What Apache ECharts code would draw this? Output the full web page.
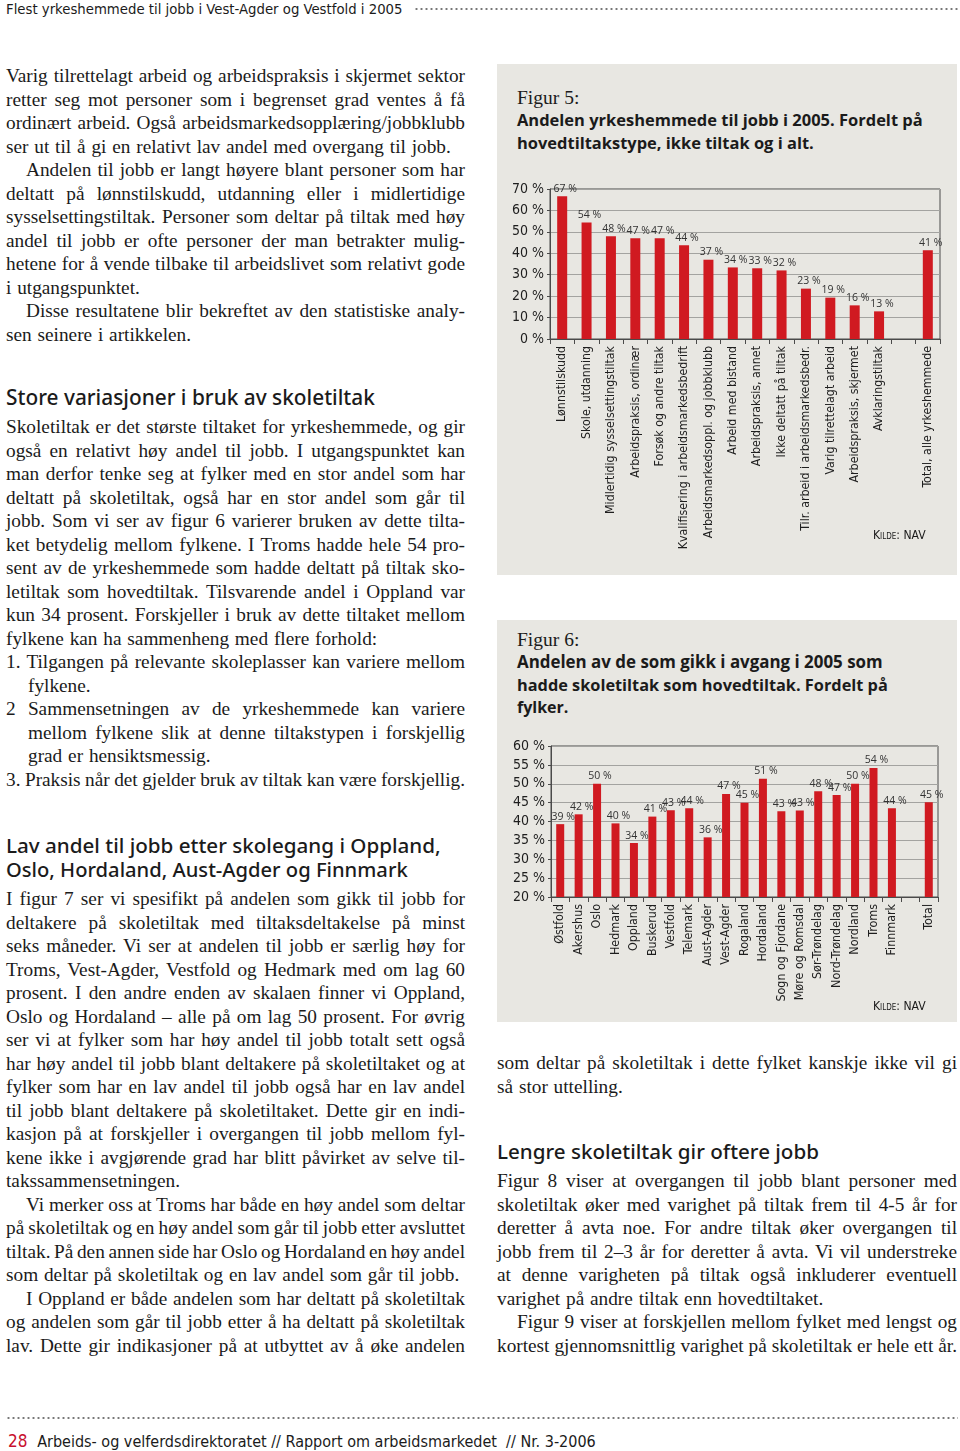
<!DOCTYPE html>
<html><head><meta charset="utf-8">
<script src="https://cdn.jsdelivr.net/npm/echarts@6/dist/echarts.min.js"></script>
<style>
html,body{margin:0;padding:0;background:#fff;}
body{width:960px;height:1451px;position:relative;overflow:hidden;color:#1b1b1b;}
.abs{position:absolute;}
.txt{font-family:"Liberation Serif","Times New Roman",serif;font-size:19.3px;line-height:23.5px;}
.txt div{text-align:justify;text-align-last:justify;white-space:nowrap;}
.txt div.l{text-align-last:left;word-spacing:1px;}
.txt div.i{text-indent:20px;}
.txt div.h{padding-left:22px;}
.col-l{left:6px;width:459px;}
.col-r{left:497px;width:460px;}
.hd{font-family:"Noto Sans","Open Sans",sans-serif;font-weight:500;font-size:21px;line-height:24px;white-space:nowrap;}
.fit{display:inline-block;white-space:nowrap;}
.cond{font-family:"Liberation Sans Narrow","DejaVu Sans Condensed",sans-serif;}
.dots{position:absolute;height:4px;background-image:radial-gradient(circle,#777 0.9px,transparent 1.3px);background-size:5px 4px;background-repeat:repeat-x;}
.panel{position:absolute;left:497px;width:460px;background:#e8e7e2;}
.fign{font-family:"Liberation Serif",serif;font-size:19.5px;line-height:22px;white-space:nowrap;}
.figt{font-family:"Open Sans",sans-serif;font-weight:bold;font-size:16px;line-height:22.5px;white-space:nowrap;}
.kilde{font-family:"Liberation Sans Narrow","DejaVu Sans Condensed",sans-serif;font-size:14px;font-variant:small-caps;}
</style></head>
<body>
<!-- header -->
<div class="abs cond" style="left:6px;top:-1px;font-size:16px;line-height:20px;"><span class="fit" data-w="397">Flest yrkeshemmede til jobb i Vest-Agder og Vestfold i 2005</span></div>
<div class="dots" style="left:414px;width:544px;top:7px;"></div>

<!-- left column -->
<div class="abs txt col-l" style="top:64px;">
<div>Varig tilrettelagt arbeid og arbeidspraksis i skjermet sektor</div>
<div>retter seg mot personer som i begrenset grad ventes å få</div>
<div>ordinært arbeid. Også arbeidsmarkedsopplæring/jobbklubb</div>
<div class="l">ser ut til å gi en relativt lav andel med overgang til jobb.</div>
<div class="i">Andelen til jobb er langt høyere blant personer som har</div>
<div>deltatt på lønnstilskudd, utdanning eller i midlertidige</div>
<div>sysselsettingstiltak. Personer som deltar på tiltak med høy</div>
<div>andel til jobb er ofte personer der man betrakter mulig-</div>
<div>hetene for å vende tilbake til arbeidslivet som relativt gode</div>
<div class="l">i utgangspunktet.</div>
<div class="i">Disse resultatene blir bekreftet av den statistiske analy-</div>
<div class="l">sen seinere i artikkelen.</div>
</div>

<div class="abs hd" style="left:6px;top:385px;"><span class="fit" data-w="369">Store variasjoner i bruk av skoletiltak</span></div>

<div class="abs txt col-l" style="top:415px;">
<div>Skoletiltak er det største tiltaket for yrkeshemmede, og gir</div>
<div>også en relativt høy andel til jobb. I utgangspunktet kan</div>
<div>man derfor tenke seg at fylker med en stor andel som har</div>
<div>deltatt på skoletiltak, også har en stor andel som går til</div>
<div>jobb. Som vi ser av figur 6 varierer bruken av dette tilta-</div>
<div>ket betydelig mellom fylkene. I Troms hadde hele 54 pro-</div>
<div>sent av de yrkeshemmede som hadde deltatt på tiltak sko-</div>
<div>letiltak som hovedtiltak. Tilsvarende andel i Oppland var</div>
<div>kun 34 prosent. Forskjeller i bruk av dette tiltaket mellom</div>
<div class="l">fylkene kan ha sammenheng med flere forhold:</div>
<div>1. Tilgangen på relevante skoleplasser kan variere mellom</div>
<div class="l h">fylkene.</div>
<div>2 Sammensetningen av de yrkeshemmede kan variere</div>
<div class="h">mellom fylkene slik at denne tiltakstypen i forskjellig</div>
<div class="l h">grad er hensiktsmessig.</div>
<div>3. Praksis når det gjelder bruk av tiltak kan være forskjellig.</div>
</div>

<div class="abs hd" style="left:6px;top:833px;">
<div><span class="fit" data-w="435">Lav andel til jobb etter skolegang i Oppland,</span></div>
<div><span class="fit" data-w="402">Oslo, Hordaland, Aust-Agder og Finnmark</span></div>
</div>

<div class="abs txt col-l" style="top:887px;">
<div>I figur 7 ser vi spesifikt på andelen som gikk til jobb for</div>
<div>deltakere på skoletiltak med tiltaksdeltakelse på minst</div>
<div>seks måneder. Vi ser at andelen til jobb er særlig høy for</div>
<div>Troms, Vest-Agder, Vestfold og Hedmark med om lag 60</div>
<div>prosent. I den andre enden av skalaen finner vi Oppland,</div>
<div>Oslo og Hordaland – alle på om lag 50 prosent. For øvrig</div>
<div>ser vi at fylker som har høy andel til jobb totalt sett også</div>
<div>har høy andel til jobb blant deltakere på skoletiltaket og at</div>
<div>fylker som har en lav andel til jobb også har en lav andel</div>
<div>til jobb blant deltakere på skoletiltaket. Dette gir en indi-</div>
<div>kasjon på at forskjeller i overgangen til jobb mellom fyl-</div>
<div>kene ikke i avgjørende grad har blitt påvirket av selve til-</div>
<div class="l">takssammensetningen.</div>
<div class="i">Vi merker oss at Troms har både en høy andel som deltar</div>
<div>på skoletiltak og en høy andel som går til jobb etter avsluttet</div>
<div>tiltak. På den annen side har Oslo og Hordaland en høy andel</div>
<div class="l">som deltar på skoletiltak og en lav andel som går til jobb.</div>
<div class="i">I Oppland er både andelen som har deltatt på skoletiltak</div>
<div>og andelen som går til jobb etter å ha deltatt på skoletiltak</div>
<div>lav. Dette gir indikasjoner på at utbyttet av å øke andelen</div>
</div>

<!-- right column: figure 5 -->
<div class="panel" style="top:64px;height:511px;"></div>
<div class="abs fign" style="left:517px;top:87px;">Figur 5:</div>
<div class="abs figt" style="left:517px;top:109px;">
<div><span class="fit" data-w="406">Andelen yrkeshemmede til jobb i 2005. Fordelt på</span></div>
<div><span class="fit" data-w="297">hovedtiltakstype, ikke tiltak og i alt.</span></div>
</div>
<div id="c1" class="abs" style="left:497px;top:175px;width:460px;height:395px;"></div>
<div class="abs kilde" style="left:873px;top:526px;"><span class="fit" data-w="54">Kilde: NAV</span></div>

<!-- figure 6 -->
<div class="panel" style="top:620px;height:402px;"></div>
<div class="abs fign" style="left:517px;top:629px;">Figur 6:</div>
<div class="abs figt" style="left:517px;top:651px;">
<div><span class="fit" data-w="366">Andelen av de som gikk i avgang i 2005 som</span></div>
<div><span class="fit" data-w="371">hadde skoletiltak som hovedtiltak. Fordelt på</span></div>
<div>fylker.</div>
</div>
<div id="c2" class="abs" style="left:497px;top:730px;width:460px;height:290px;"></div>
<div class="abs kilde" style="left:873px;top:997px;"><span class="fit" data-w="54">Kilde: NAV</span></div>

<div class="abs txt col-r" style="top:1051px;">
<div>som deltar på skoletiltak i dette fylket kanskje ikke vil gi</div>
<div class="l">så stor uttelling.</div>
</div>
<div class="abs hd" style="left:497px;top:1139px;"><span class="fit" data-w="322">Lengre skoletiltak gir oftere jobb</span></div>
<div class="abs txt col-r" style="top:1169px;">
<div>Figur 8 viser at overgangen til jobb blant personer med</div>
<div>skoletiltak øker med varighet på tiltak frem til 4-5 år for</div>
<div>deretter å avta noe. For andre tiltak øker overgangen til</div>
<div>jobb frem til 2–3 år for deretter å avta. Vi vil understreke</div>
<div>at denne varigheten på tiltak også inkluderer eventuell</div>
<div class="l">varighet på andre tiltak enn hovedtiltaket.</div>
<div class="i">Figur 9 viser at forskjellen mellom fylket med lengst og</div>
<div>kortest gjennomsnittlig varighet på skoletiltak er hele ett år.</div>
</div>

<!-- footer -->
<div class="dots" style="left:6px;width:952px;top:1416px;"></div>
<div class="abs cond" style="left:8px;top:1430px;font-size:17px;line-height:22px;white-space:nowrap;"><span style="color:#c8102e;">28</span>&nbsp;&nbsp;<span class="fit" data-w="559">Arbeids- og velferdsdirektoratet // Rapport om arbeidsmarkedet &nbsp;// Nr. 3-2006</span></div>

<script>
// ---- data ----
var tiltakCategories = ['Lønnstilskudd','Skole, utdanning','Midlertidig sysselsettingstiltak','Arbeidspraksis, ordinær','Forsøk og andre tiltak','Kvalifisering i arbeidsmarkedsbedrift','Arbeidsmarkedsoppl. og jobbklubb','Arbeid med bistand','Arbeidspraksis, annet','Ikke deltatt på tiltak','Tilr. arbeid i arbeidsmarkedsbedr.','Varig tilrettelagt arbeid','Arbeidspraksis, skjermet','Avklaringstiltak','','Total, alle yrkeshemmede'];
var tiltakValues = [66.6,54.4,47.9,47.0,47.0,43.7,37.0,33.4,33.0,32.0,23.5,19.3,15.7,12.9,null,41.4];
var tiltakLabels = ['67 %','54 %','48 %','47 %','47 %','44 %','37 %','34 %','33 %','32 %','23 %','19 %','16 %','13 %','','41 %'];
var tiltakTicks = [0,70,10];

var fylkeCategories = ['Østfold','Akershus','Oslo','Hedmark','Oppland','Buskerud','Vestfold','Telemark','Aust-Agder','Vest-Agder','Rogaland','Hordaland','Sogn og Fjordane','Møre og Romsdal','Sør-Trøndelag','Nord-Trøndelag','Nordland','Troms','Finnmark','','Total'];
var fylkeValues = [39.3,41.9,50.0,39.5,34.3,41.3,43.0,43.5,35.8,47.3,45.0,51.3,42.7,42.9,48.0,47.0,50.0,54.2,43.5,null,45.1];
var fylkeLabels = ['39 %','42 %','50 %','40 %','34 %','41 %','43 %','44 %','36 %','47 %','45 %','51 %','43 %','43 %','48 %','47 %','50 %','54 %','44 %','','45 %'];
var fylkeTicks = [20,60,5];

// ---- fit single-line texts to measured widths ----
document.querySelectorAll('.fit').forEach(function(el){
  var w = parseFloat(el.getAttribute('data-w'));
  var fs = parseFloat(getComputedStyle(el).fontSize);
  var a = el.getBoundingClientRect().width;
  if (a > 0) el.style.fontSize = (fs * w / a) + 'px';
});
// ---- squeeze word spacing of over-long justified lines ----
document.querySelectorAll('.txt > div').forEach(function(d){
  var html = d.innerHTML;
  var cs = getComputedStyle(d);
  var avail = d.clientWidth - parseFloat(cs.paddingLeft) - parseFloat(cs.textIndent || 0);
  d.innerHTML = '<span style="display:inline-block;text-indent:0">' + html + '</span>';
  var nat = d.firstChild.getBoundingClientRect().width;
  d.innerHTML = html;
  if (nat > avail) {
    var spaces = (d.textContent.match(/ /g) || []).length;
    if (spaces > 0) {
      var ws = parseFloat(cs.wordSpacing) || 0;
      d.style.wordSpacing = (ws + (avail - nat) / spaces - 0.05) + 'px';
    }
  }
});

var RED = '#d01a21';
var AXF = '"Liberation Sans Narrow","DejaVu Sans Condensed",sans-serif';
var LBF = '"Open Sans",sans-serif';

function makeChart(id, grid, cats, vals, labs, ticks, barW, xFont) {
  var ch = echarts.init(document.getElementById(id), null, {renderer:'canvas'});
  ch.setOption({
    animation:false,
    backgroundColor:'transparent',
    grid: Object.assign({show:true, borderColor:'#4a4a4a', borderWidth:1, backgroundColor:'transparent', containLabel:false}, grid),
    xAxis: {
      type:'category', data:cats,
      axisLine:{show:true, lineStyle:{color:'#4a4a4a', width:1}},
      axisTick:{show:true, length:5, lineStyle:{color:'#4a4a4a'}},
      axisLabel:{interval:0, rotate:90, margin:7, fontFamily:AXF, fontSize:xFont, color:'#1e1e1e'}
    },
    yAxis: {
      type:'value', min:ticks[0], max:ticks[1], interval:ticks[2],
      axisLine:{show:true, lineStyle:{color:'#4a4a4a', width:1}},
      axisTick:{show:true, length:3, lineStyle:{color:'#4a4a4a'}},
      axisLabel:{margin:6, fontFamily:AXF, fontSize:14, color:'#1e1e1e', formatter:'{value} %'},
      splitLine:{show:true, lineStyle:{color:'#a3a3a0', width:1}}
    },
    series: [{
      type:'bar', data:vals, barWidth:barW,
      itemStyle:{color:RED},
      label:{show:true, position:'top', distance:2, offset:[3,0], fontFamily:LBF, fontSize:10.5, color:'#333',
        formatter:function(p){ return labs[p.dataIndex]; }}
    }]
  });
}

makeChart('c1', {left:53, top:14, width:390, height:150}, tiltakCategories, tiltakValues, tiltakLabels, tiltakTicks, 10, 12.3);
makeChart('c2', {left:54, top:16, width:387, height:151}, fylkeCategories, fylkeValues, fylkeLabels, fylkeTicks, 8, 12.4);
</script>
</body></html>
